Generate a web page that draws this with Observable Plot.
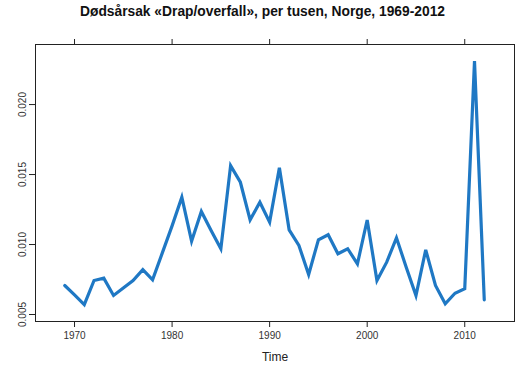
<!DOCTYPE html>
<html>
<head>
<meta charset="utf-8">
<script src="https://cdn.jsdelivr.net/npm/d3@7"></script>
<script src="https://cdn.jsdelivr.net/npm/@observablehq/plot@0.6"></script>
<style>
  html, body { margin: 0; padding: 0; background: #fff; }
  #wrap { position: relative; width: 525px; height: 372px; font-family: "Liberation Sans", Arial, sans-serif; }
  #title { position: absolute; left: 0; top: 3px; width: 525px; text-align: center; font-weight: bold; font-size: 13.8px; color: #111; line-height: 18px; }
  #chart { position: absolute; left: 0; top: 0; }
</style>
</head>
<body>
<div id="wrap">
  <div id="chart"></div>
  <div id="title">Dødsårsak «Drap/overfall», per tusen, Norge, 1969-2012</div>
</div>
<script>
const years = [1969,1970,1971,1972,1973,1974,1975,1976,1977,1978,1979,1980,1981,1982,1983,1984,1985,1986,1987,1988,1989,1990,1991,1992,1993,1994,1995,1996,1997,1998,1999,2000,2001,2002,2003,2004,2005,2006,2007,2008,2009,2010,2011,2012];
const rates = [0.00707,0.0064,0.0057,0.00743,0.0076,0.00636,0.0069,0.00743,0.0082,0.00748,0.0094,0.01133,0.01338,0.01024,0.01236,0.0110,0.0097,0.01564,0.01445,0.01176,0.01302,0.0116,0.01548,0.01105,0.00993,0.00786,0.01034,0.0107,0.00934,0.0097,0.00862,0.01175,0.00743,0.00874,0.01048,0.00838,0.00636,0.00962,0.00707,0.00576,0.00652,0.00684,0.0231,0.00605];
const xTicks = [1970,1980,1990,2000,2010];
const yTicks = [0.005,0.010,0.015,0.020];
const xLabel = "Time";

const data = years.map((y, i) => ({year: y, value: rates[i]}));

const chart = Plot.plot({
  width: 525,
  height: 372,
  marginLeft: 35,
  marginRight: 11,
  marginTop: 44,
  marginBottom: 51,
  style: {fontFamily: "'Liberation Sans', Arial, sans-serif", background: "#fff"},
  x: {domain: [1966, 2015.1]},
  y: {domain: [0.0045, 0.02429]},
  marks: [
    Plot.axisX({anchor: "bottom", ticks: xTicks, tickSize: 6, tickPadding: 4, fontSize: 10, label: null, stroke: "#222", fill: "#333", tickFormat: d => String(d)}),
    Plot.axisX({anchor: "top", ticks: xTicks, tickSize: 6, label: null, stroke: "#222", tickFormat: () => ""}),
    Plot.axisY({anchor: "left", ticks: yTicks, tickSize: 6, label: null, stroke: "#222", tickFormat: () => ""}),
    Plot.text(yTicks, {y: d => d, text: d3.format(".3f"), frameAnchor: "left", dx: -13, rotate: -90, fontSize: 10, fill: "#333", textAnchor: "middle", lineAnchor: "middle"}),
    Plot.text([xLabel], {text: d => d, frameAnchor: "bottom", dy: 36, fontSize: 12, fill: "#222", lineAnchor: "middle"}),
    Plot.line(data, {x: "year", y: "value", stroke: "#1f78c4", strokeWidth: 3.2, strokeLinejoin: "miter", strokeMiterlimit: 4}),
    Plot.frame({stroke: "#222", strokeWidth: 1})
  ]
});
document.getElementById("chart").appendChild(chart);
</script>
</body>
</html>
